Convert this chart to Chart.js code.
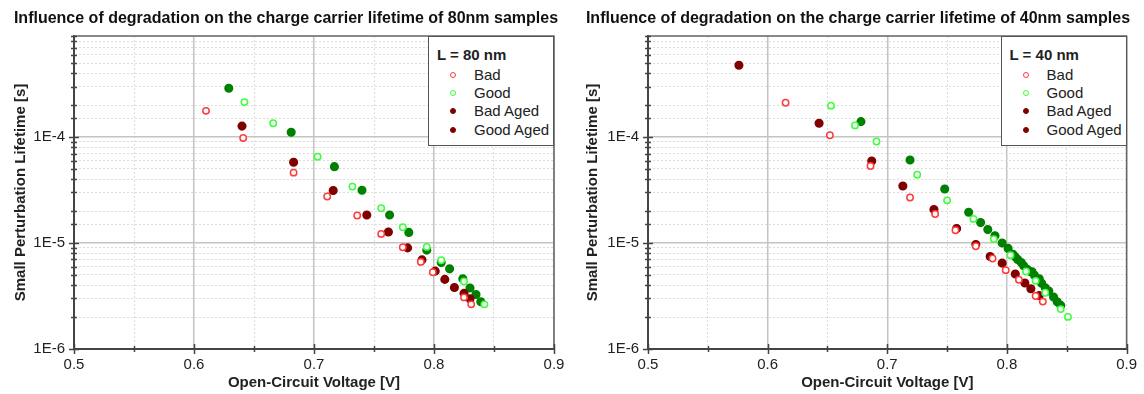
<!DOCTYPE html>
<html>
<head>
<meta charset="utf-8">
<script src="https://cdn.jsdelivr.net/npm/chart.js@4.4.1/dist/chart.umd.min.js"></script>
<style>
  html, body { margin: 0; padding: 0; background: #fff; }
  #wrap { position: relative; width: 1144px; height: 394px; overflow: hidden; }
  .panel { position: absolute; top: 0; width: 572px; height: 394px; }
  .title {
    position: absolute; left: 0; top: 8px; width: 572px; text-align: center; line-height: 20px;
    font-family: 'Liberation Sans', Arial, sans-serif; font-size: 16px; font-weight: bold; color: #111;
    white-space: nowrap;
  }
  .legend {
    position: absolute; background: #fff; border: 1px solid #555; box-sizing: border-box;
    font-family: 'Liberation Sans', Arial, sans-serif; color: #222; font-size: 15px;
  }
  .legend .ttl { position: absolute; left: 8px; top: 9px; line-height: 18px; font-weight: bold; }
  .legend .row { position: absolute; left: 0; height: 18px; line-height: 18px; white-space: nowrap; }
  .legend .mk { position: absolute; left: 21px; top: 6px; width: 6px; height: 6px; border-radius: 50%; box-sizing: border-box; }
  .legend .lbl { position: absolute; left: 45px; top: 0; }
</style>
</head>
<body>
<div id="wrap">
  <div class="panel" style="left:0"><canvas id="chart80" width="572" height="394"></canvas></div>
  <div class="panel" style="left:572px"><canvas id="chart40" width="572" height="394"></canvas></div>
</div>
<script>
// --- data: [Voc (V), lifetime (s)] ---
const seriesNames = ['Bad', 'Good', 'Bad Aged', 'Good Aged'];
const yTickLabels = ['1E-6', '1E-5', '1E-4'];

const bad80 = [[0.610, 1.77e-4], [0.641, 9.8e-5], [0.683, 4.62e-5], [0.711, 2.75e-5], [0.736, 1.82e-5],
  [0.756, 1.22e-5], [0.774, 9.14e-6], [0.789, 6.64e-6], [0.799, 5.31e-6], [0.825, 3.07e-6], [0.831, 2.64e-6]];
const good80 = [[0.642, 2.14e-4], [0.666, 1.35e-4], [0.703, 6.53e-5], [0.732, 3.41e-5], [0.756, 2.13e-5],
  [0.774, 1.41e-5], [0.794, 9.2e-6], [0.806, 6.89e-6], [0.825, 4.34e-6], [0.842, 2.64e-6]];
const badAged80 = [[0.640, 1.27e-4], [0.683, 5.78e-5], [0.716, 3.13e-5], [0.744, 1.84e-5], [0.762, 1.27e-5],
  [0.778, 9.0e-6], [0.790, 6.94e-6], [0.801, 5.43e-6], [0.809, 4.54e-6], [0.817, 3.81e-6], [0.825, 3.35e-6], [0.830, 2.98e-6]];
const goodAged80 = [[0.629, 2.89e-4], [0.681, 1.11e-4], [0.717, 5.26e-5], [0.740, 3.15e-5], [0.763, 1.84e-5],
  [0.779, 1.26e-5], [0.794, 8.57e-6], [0.806, 6.56e-6], [0.813, 5.71e-6], [0.824, 4.6e-6], [0.830, 3.76e-6],
  [0.835, 3.27e-6], [0.839, 2.79e-6]];

const bad40 = [[0.615, 2.11e-4], [0.652, 1.04e-4], [0.686, 5.33e-5], [0.719, 2.69e-5], [0.740, 1.88e-5],
  [0.757, 1.32e-5], [0.774, 9.34e-6], [0.788, 7.15e-6], [0.799, 5.55e-6], [0.810, 4.5e-6], [0.824, 3.16e-6], [0.830, 2.8e-6]];
const good40 = [[0.653, 1.98e-4], [0.673, 1.29e-4], [0.691, 9.1e-5], [0.725, 4.42e-5], [0.750, 2.53e-5],
  [0.772, 1.69e-5], [0.789, 1.09e-5], [0.803, 7.69e-6], [0.816, 5.4e-6], [0.824, 4.4e-6], [0.832, 3.4e-6],
  [0.845, 2.38e-6], [0.851, 2.01e-6]];
const badAged40 = [[0.576, 4.77e-4], [0.643, 1.35e-4], [0.687, 5.94e-5], [0.713, 3.45e-5], [0.739, 2.07e-5],
  [0.758, 1.37e-5], [0.774, 9.7e-6], [0.786, 7.47e-6], [0.796, 6.46e-6], [0.807, 5.1e-6], [0.815, 4.2e-6],
  [0.820, 3.7e-6], [0.827, 3.2e-6]];
const goodAged40 = [[0.678, 1.40e-4], [0.719, 6.07e-5], [0.748, 3.24e-5], [0.768, 1.95e-5], [0.778, 1.56e-5],
  [0.784, 1.34e-5], [0.790, 1.17e-5], [0.796, 1.0e-5], [0.801, 8.9e-6], [0.805, 7.85e-6], [0.807, 7.4e-6],
  [0.809, 7.0e-6], [0.812, 6.56e-6], [0.814, 6.1e-6], [0.817, 5.64e-6], [0.819, 5.4e-6], [0.821, 5.35e-6],
  [0.823, 4.96e-6], [0.827, 4.6e-6], [0.829, 4.17e-6], [0.832, 3.79e-6], [0.835, 3.53e-6], [0.839, 3.1e-6],
  [0.842, 2.79e-6], [0.845, 2.58e-6]];

// --- styles ---
const FONT = "'Liberation Sans', Arial, sans-serif";
const markColors = ['#ff3b3b', '#3bff3b', '#800000', '#008000'];
const legendColors = ['#ff3b3b', '#3bff3b', '#800000', '#800000']; // legend shows dark red for Good Aged
const openMarks = [true, true, false, false];

Chart.defaults.font.family = FONT;
Chart.defaults.color = '#222';

const isDecade = v => Math.abs(Math.log10(v) - Math.round(Math.log10(v))) < 1e-6;
const isTenth = v => Math.abs(v * 10 - Math.round(v * 10)) < 1e-6;

const framePlugin = {
  id: 'frame',
  beforeDatasetsDraw(chart) {
    const { ctx, chartArea: a, scales: { x, y } } = chart;
    ctx.save();
    ctx.lineWidth = 1.5;
    ctx.strokeStyle = '#666';
    ctx.beginPath();
    ctx.moveTo(a.left, a.top); ctx.lineTo(a.right, a.top); ctx.lineTo(a.right, a.bottom);
    ctx.stroke();
    ctx.strokeStyle = '#444';
    ctx.beginPath();
    y.ticks.forEach(t => {
      const py = Math.round(y.getPixelForValue(t.value)) + 0.5;
      const h = isDecade(t.value) ? 5 : 3;
      ctx.moveTo(a.left - h, py); ctx.lineTo(a.left + h, py);
    });
    x.ticks.forEach(t => {
      const px = Math.round(x.getPixelForValue(t.value)) + 0.5;
      const h = isTenth(t.value) ? 5 : 3;
      ctx.moveTo(px, a.bottom - h); ctx.lineTo(px, a.bottom + h);
    });
    ctx.stroke();
    ctx.restore();
  }
};

function makeChart(id, title, seriesData, padRight, yWidth, legendTitle) {
  const datasets = seriesData.map((pts, i) => ({
    label: seriesNames[i],
    data: pts.map(p => ({ x: p[0], y: p[1] })),
    pointRadius: openMarks[i] ? 3.2 : 3.8,
    pointHoverRadius: 4,
    borderWidth: 1.5,
    borderColor: markColors[i],
    backgroundColor: openMarks[i] ? '#fff' : markColors[i],
    showLine: false
  }));

  const chart = new Chart(document.getElementById(id), {
    type: 'scatter',
    data: { datasets },
    options: {
      responsive: false,
      animation: false,
      layout: { padding: { left: 0, right: padRight, top: 36, bottom: 0 } },
      plugins: {
        legend: { display: false },
        tooltip: { enabled: false },
        title: { display: false }
      },
      scales: {
        x: {
          type: 'linear', min: 0.5, max: 0.9,
          afterFit: s => { s.height = 45; },
          ticks: {
            stepSize: 0.05, autoSkip: false, maxRotation: 0, padding: 7,
            font: { size: 15 }, color: '#222',
            callback: v => isTenth(v) ? v.toFixed(1) : ''
          },
          grid: {
            drawTicks: false,
            color: c => isTenth(c.tick.value) ? '#c4c4c4' : '#dcdcdc',
            lineWidth: c => isTenth(c.tick.value) ? 1.5 : 1
          },
          border: { color: '#444', width: 2, dash: c => isTenth(c.tick.value) ? [] : [2, 2] },
          title: {
            display: true, text: 'Open-Circuit Voltage [V]', color: '#222',
            font: { size: 15, weight: 'bold' }, padding: { top: 0, bottom: 2 }
          }
        },
        y: {
          type: 'logarithmic', min: 1e-6, max: 9e-4,
          afterFit: s => { s.width = yWidth; },
          ticks: {
            autoSkip: false, padding: 9, font: { size: 15 }, color: '#222',
            callback: v => isDecade(v) ? yTickLabels[Math.round(Math.log10(v)) + 6] : ''
          },
          grid: {
            drawTicks: false,
            color: c => isDecade(c.tick.value) ? '#c4c4c4' : '#dcdcdc',
            lineWidth: c => isDecade(c.tick.value) ? 1.5 : 1
          },
          border: { color: '#444', width: 2, dash: c => isDecade(c.tick.value) ? [] : [2, 2] },
          title: {
            display: true, text: 'Small Perturbation Lifetime [s]', color: '#222',
            font: { size: 15, weight: 'bold' }, padding: { top: 12, bottom: 0 }
          }
        }
      }
    },
    plugins: [framePlugin]
  });

  const panel = chart.canvas.parentNode;

  // chart title, centred over the whole panel
  const head = document.createElement('div');
  head.className = 'title';
  head.textContent = title;
  panel.appendChild(head);

  // legend box inside the plot, top-right
  const a = chart.chartArea;
  const box = document.createElement('div');
  box.className = 'legend';
  box.style.left = (a.right - 126) + 'px';
  box.style.top = a.top + 'px';
  box.style.width = 126 + 'px';
  box.style.height = 110 + 'px';
  const ttl = document.createElement('div');
  ttl.className = 'ttl';
  ttl.textContent = legendTitle;
  box.appendChild(ttl);
  seriesNames.forEach((name, i) => {
    const row = document.createElement('div');
    row.className = 'row';
    row.style.top = (28.5 + i * 18.4) + 'px';
    const mk = document.createElement('span');
    mk.className = 'mk';
    mk.style.border = '1.5px solid ' + legendColors[i];
    mk.style.background = openMarks[i] ? '#fff' : legendColors[i];
    const lbl = document.createElement('span');
    lbl.className = 'lbl';
    lbl.textContent = name;
    row.appendChild(mk);
    row.appendChild(lbl);
    box.appendChild(row);
  });
  panel.appendChild(box);
  return chart;
}

makeChart('chart80', 'Influence of degradation on the charge carrier lifetime of 80nm samples',
  [bad80, good80, badAged80, goodAged80], 18, 74, 'L = 80 nm');
makeChart('chart40', 'Influence of degradation on the charge carrier lifetime of 40nm samples',
  [bad40, good40, badAged40, goodAged40], 16, 76, 'L = 40 nm');
</script>
</body>
</html>
